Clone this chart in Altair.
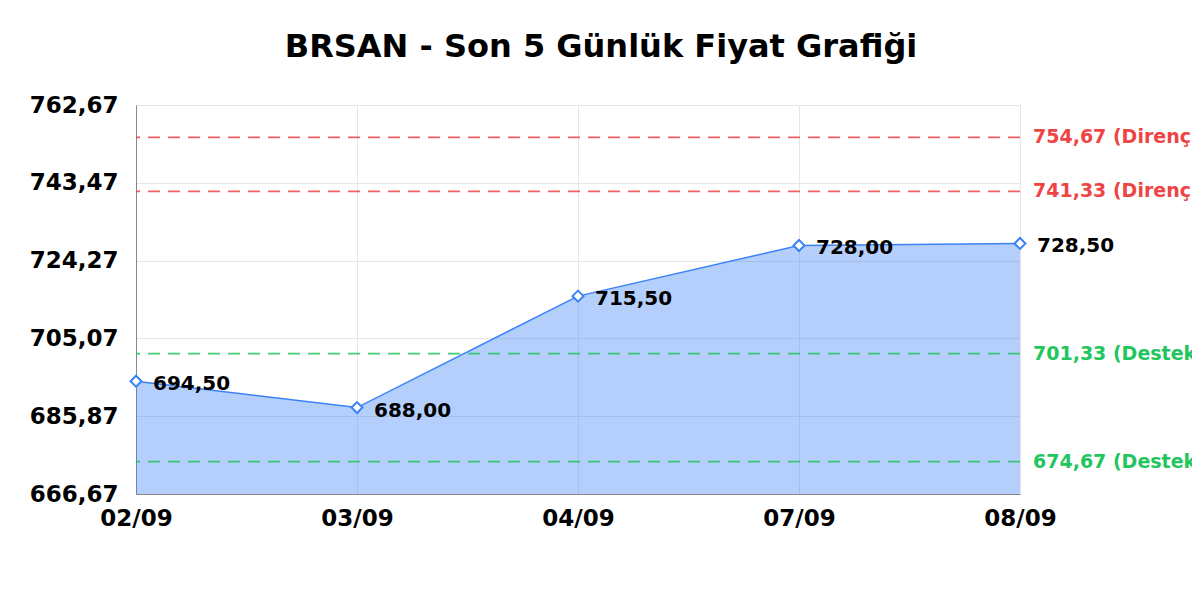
import altair as alt
import pandas as pd

dates = ["02/09", "03/09", "04/09", "07/09", "08/09"]
prices = [694.50, 688.00, 715.50, 728.00, 728.50]

level_values = [754.67, 741.33, 701.33, 674.67]
level_kinds = ["Direnç", "Direnç", "Destek", "Destek"]
level_colors = ["#ef4444", "#ef4444", "#22c55e", "#22c55e"]

y_ticks = [666.67, 685.87, 705.07, 724.27, 743.47, 762.67]
y_domain = [666.67, 762.67]

df = pd.DataFrame({"date": dates, "price": prices})
levels = pd.DataFrame({
    "value": level_values,
    "kind": level_kinds,
    "color": level_colors,
    "date": [dates[-1]] * len(level_values),
})

FONT = "DejaVu Sans"
BLUE = "#3b82f6"

x_enc = alt.X(
    "date:N",
    sort=dates,
    scale=alt.Scale(type="point", padding=0),
    axis=alt.Axis(
        title=None, labelAngle=0, labelFontSize=23, labelFontWeight="bold",
        labelColor="black", labelFont=FONT, ticks=False, labelPadding=13,
        domainColor="#888888", gridColor="#e6e6e6", grid=True,
    ),
)
y_enc = alt.Y(
    "price:Q",
    scale=alt.Scale(domain=y_domain, zero=False, nice=False),
    axis=alt.Axis(
        title=None, values=y_ticks, labelFontSize=23, labelFontWeight="bold",
        labelColor="black", labelFont=FONT, ticks=False, labelPadding=18,
        domainColor="#888888", gridColor="#e6e6e6",
        labelExpr="replace(format(datum.value, '.2f'), '.', ',')",
    ),
)

base = alt.Chart(df).encode(x=x_enc, y=y_enc)

area = base.mark_area(color=BLUE, opacity=0.38, clip=True)
line = base.mark_line(color=BLUE, strokeWidth=1.5)
points = base.mark_point(
    shape="diamond", filled=True, fill="white", stroke=BLUE,
    strokeWidth=2, size=120, opacity=1,
)
labels = base.transform_calculate(
    lbl="replace(format(datum.price, '.2f'), '.', ',')"
).mark_text(
    align="left", baseline="middle", dx=17, dy=3, fontSize=20,
    fontWeight="bold", font=FONT, color="black",
).encode(text="lbl:N")

rules = alt.Chart(levels).mark_rule(strokeDash=[12, 8], strokeWidth=1.8, opacity=0.85).encode(
    y=alt.Y("value:Q"),
    color=alt.Color("color:N", scale=None),
)
rule_labels = alt.Chart(levels).transform_calculate(
    lbl="replace(format(datum.value, '.2f'), '.', ',') + ' (' + datum.kind + ')'"
).mark_text(
    align="left", baseline="middle", dx=13, fontSize=19, fontWeight="bold", font=FONT,
).encode(
    x=alt.X("date:N", sort=dates),
    y=alt.Y("value:Q"),
    text="lbl:N",
    color=alt.Color("color:N", scale=None),
)

chart = alt.layer(area, line, rules, points, labels, rule_labels).properties(
    width=884,
    height=389,
    title=alt.TitleParams(
        "BRSAN - Son 5 Günlük Fiyat Grafiği", fontSize=32, font=FONT,
        fontWeight="bold", color="black", anchor="middle", dx=23, offset=30,
    ),
    autosize=alt.AutoSizeParams(type="none"),
    padding={"left": 128, "top": 97, "right": 172, "bottom": 98},
).configure_view(stroke=None).configure(background="white")

chart.save("out.html", embed_options={"renderer": "svg", "actions": False})
